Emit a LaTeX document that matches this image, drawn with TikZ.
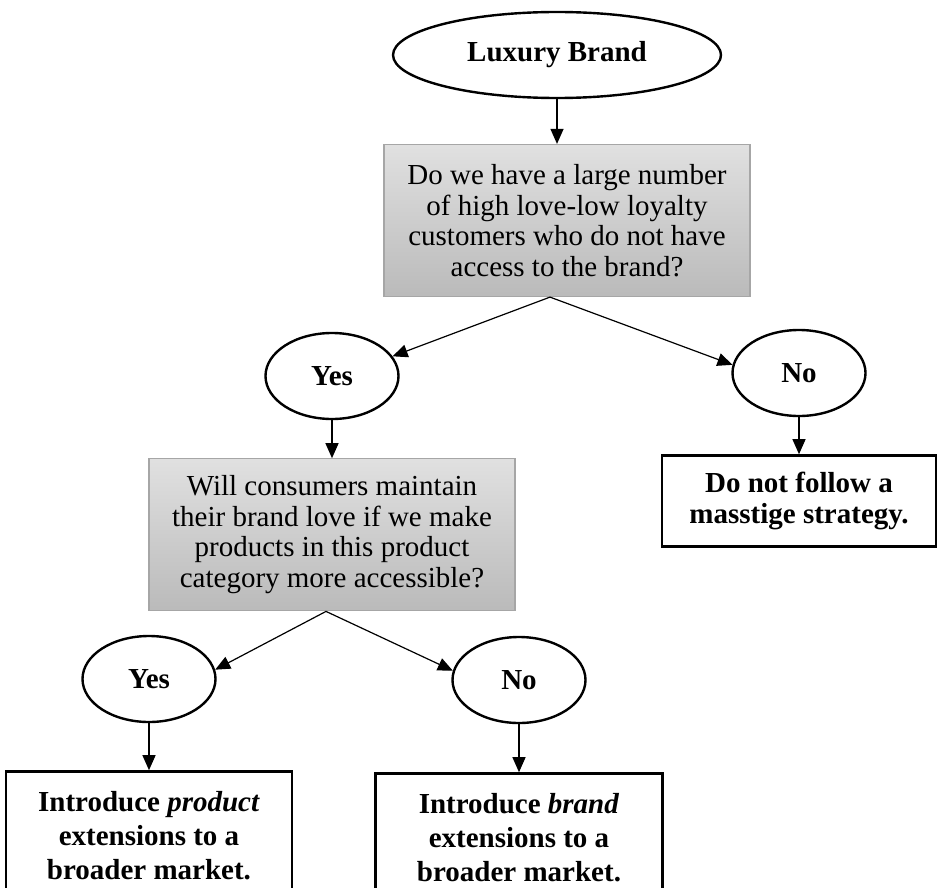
\documentclass[tikz,border=0pt]{standalone}
\usepackage{fontspec}
\setmainfont{Liberation Serif}
\usetikzlibrary{shapes.geometric,arrows.meta,positioning}
\tikzset{
  answer/.style={ % oval yes/no node
    draw, ellipse, line width=2.4pt, inner sep=0pt,
    minimum width=133pt, minimum height=86pt,
    font=\fontsize{29}{31}\selectfont\bfseries
  },
  question/.style={ % shaded question box
    draw=black!35, line width=1.2pt, rectangle, inner sep=0pt,
    minimum width=366pt, minimum height=152pt, align=center,
    top color=black!12, bottom color=black!27,
    font=\fontsize{29}{30.5}\selectfont
  },
  outcome/.style={ % final advice box
    draw, rectangle, line width=2.4pt, inner sep=0pt, align=center,
    font=\fontsize{29}{31}\selectfont\bfseries
  },
  link/.style={line width=1.2pt, -{Triangle[length=15pt,width=13pt]}}
}
\begin{document}
\begin{tikzpicture}[x=1pt,y=1pt]
  \useasboundingbox (0,0) rectangle (939,-888);
  \clip (0,0) rectangle (939,-888);

  \node[answer, minimum width=328pt] (lux) at (557,-55) {Luxury Brand};
  \node[question] (q1) at (567,-220.5) {Do we have a large number\\of high love-low loyalty\\customers who do not have\\access to the brand?};
  \node[answer] (yes1) at (332,-376) {Yes};
  \node[answer] (no1) at (799,-373) {No};
  \node[question] (q2)[below=38pt of yes1] {Will consumers maintain\\their brand love if we make\\products in this product\\category more accessible?};
  \node[outcome, minimum width=274pt, minimum height=91pt] (stop)[below=37pt of no1] {Do not follow a\\masstige strategy.};
  \node[answer] (yes2) at (149,-679) {Yes};
  \node[answer] (no2) at (519,-680) {No};
  \node[outcome, minimum width=286pt, minimum height=128pt,
        font=\fontsize{29}{34}\selectfont\bfseries] (prod)[below=47pt of yes2] {Introduce \textit{product}\\extensions to a\\broader market.};
  \node[outcome, minimum width=287pt, minimum height=128pt,
        font=\fontsize{29}{34}\selectfont\bfseries] (brand)[below=48pt of no2] {Introduce \textit{brand}\\extensions to a\\broader market.};

  \draw[link] (lux) -- (lux |- q1.north);
  \draw[link] ([xshift=-17pt]q1.south) -- (yes1.18);
  \draw[link] ([xshift=-17pt]q1.south) -- (no1.173);
  \draw[link] (yes1) -- (yes1 |- q2.north);
  \draw[link] (no1) -- (no1 |- stop.north);
  \draw[link] ([xshift=-6pt]q2.south) -- (yes2.8);
  \draw[link] ([xshift=-6pt]q2.south) -- (no2.172);
  \draw[link] (yes2) -- (yes2 |- prod.north);
  \draw[link] (no2) -- (no2 |- brand.north);
\end{tikzpicture}
\end{document}
